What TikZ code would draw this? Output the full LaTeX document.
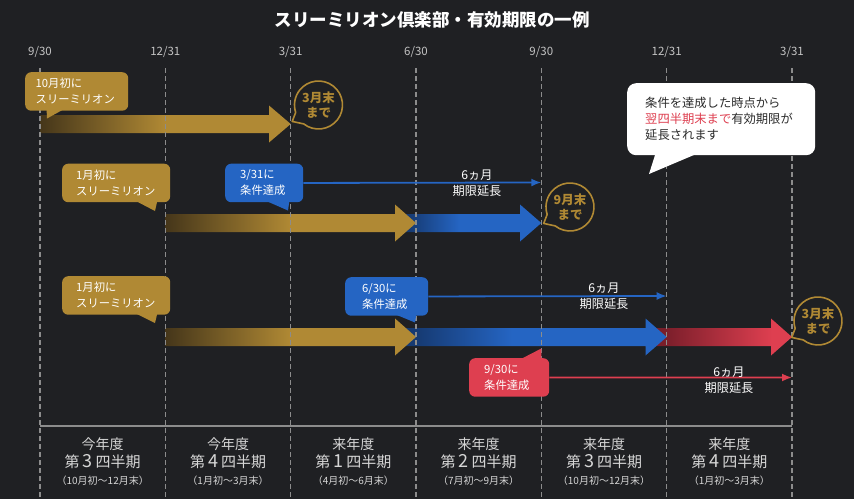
\documentclass[tikz,border=0pt]{standalone}
\usepackage{fontspec}
\setmainfont{Noto Sans CJK JP}
\usetikzlibrary{calc,arrows.meta}
\definecolor{bg}{HTML}{1F2023}
\definecolor{gold}{HTML}{B08934}
\definecolor{golddark}{HTML}{45361A}
\definecolor{blueA}{HTML}{2565C3}
\definecolor{bluedark}{HTML}{163A72}
\definecolor{redA}{HTML}{DE3F50}
\definecolor{reddark}{HTML}{7A1E2A}
\definecolor{gridc}{HTML}{8C8C8C}
\definecolor{datec}{HTML}{C4C4C4}
\definecolor{qtxt}{HTML}{D6D6D6}
\definecolor{darktxt}{HTML}{2B2B2B}
\pgfdeclarehorizontalshading{goldsh}{100bp}{color(0bp)=(golddark); color(25bp)=(golddark); color(50bp)=(gold); color(100bp)=(gold)}
\pgfdeclarehorizontalshading{bluesh}{100bp}{color(0bp)=(bluedark); color(28bp)=(bluedark); color(46bp)=(blueA); color(100bp)=(blueA)}
\pgfdeclarehorizontalshading{redsh}{100bp}{color(0bp)=(reddark); color(30bp)=(reddark); color(68bp)=(redA); color(100bp)=(redA)}
\tikzset{
  datelbl/.style={text=datec, font=\fontsize{11.5}{13}\selectfont, inner sep=0pt},
  gridline/.style={draw=gridc, line width=1.5pt, dash pattern=on 5pt off 3pt},
  cbox/.style={rounded corners=6pt, align=left, text=white, font=\fontsize{11.3}{16}\selectfont, inner ysep=0pt, anchor=north west, minimum height=38.5pt},
  thinarrow/.style={line width=1.8pt, -{Latex[length=10pt,width=8pt]}},
  extlbl/.style={text=white, align=center, font=\fontsize{12.2}{15.5}\selectfont, inner sep=0pt},
  bubble/.style={draw=gold, fill=bg, line width=1.6pt, line join=round},
  bubtxt/.style={text=gold, align=center, font=\bfseries\fontsize{12.5}{14.5}\selectfont, inner sep=0pt},
  qyear/.style={text=qtxt, font=\fontsize{14}{16}\selectfont, anchor=base, inner sep=0pt, text height=10.5pt, text depth=1.5pt},
  qname/.style={text=qtxt, font=\fontsize{15}{16}\selectfont, anchor=base, inner sep=0pt, text height=13pt, text depth=1.5pt},
  qrange/.style={text=qtxt, font=\fontsize{10}{12}\selectfont, anchor=base, inner sep=0pt, text height=8pt, text depth=1.5pt},
}
\begin{document}
\begin{tikzpicture}[x=1pt,y=-1pt]
\fill[bg] (0,0) rectangle (854,499);
\useasboundingbox (0,0) rectangle (854,499);

% title
\node (title) [text=white, font=\bfseries\fontsize{17.5}{20}\selectfont, inner sep=0pt] at (432,20) {スリーミリオン倶楽部・有効期限の一例};

% dates and coordinates of grid lines
\foreach \i/\d in {0/{9/30},1/{12/31},2/{3/31},3/{6/30},4/{9/30},5/{12/31},6/{3/31}}{
  \node (date\i) [datelbl] at ({40+125.33*\i},52) {\d};
  \coordinate (top\i) at ({40+125.33*\i},68);
  \coordinate (bot\i) at ({40+125.33*\i},497);
}

% big arrows
\shade[shading=goldsh] (40,115) -- (269,115) -- (269,105.5) -- (290.7,124) -- (269,142.5) -- (269,133) -- (40,133) -- cycle;

\shade[shading=bluesh] (400,214) -- (520,214) -- (520,204.5) -- (541.3,223) -- (520,241.5) -- (520,232) -- (400,232) -- cycle;
\shade[shading=goldsh] (165.3,214) -- (395,214) -- (395,204.5) -- (416,223) -- (395,241.5) -- (395,232) -- (165.3,232) -- cycle;

\shade[shading=redsh] (650,328) -- (771,328) -- (771,318.5) -- (792,337) -- (771,355.5) -- (771,346) -- (650,346) -- cycle;
\shade[shading=bluesh] (400,328) -- (645.5,328) -- (645.5,318.5) -- (666.7,337) -- (645.5,355.5) -- (645.5,346) -- (400,346) -- cycle;
\shade[shading=goldsh] (165.3,328) -- (395,328) -- (395,318.5) -- (416,337) -- (395,355.5) -- (395,346) -- (165.3,346) -- cycle;

% grid lines
\foreach \i in {0,...,6}{ \draw[gridline] (top\i) -- (bot\i); }
\coordinate (axl) at (40,426);
\coordinate (axr) at (792,426);
\draw[gridc, line width=1.5pt] (axl) -- (axr);

% callouts
\node (c1) [cbox, fill=gold, inner xsep=10.5pt, text width=82pt] at (25,72) {10月初に\\スリーミリオン};
\fill[gold] (46.5,108) -- (47,118.5) -- (66,108) -- cycle;

\node (c2) [cbox, fill=gold, inner xsep=14pt, text width=80pt] at (62,163.5) {1月初に\\スリーミリオン};
\fill[gold] (134,200) -- (155,211) -- (157.5,200) -- cycle;

\node (b331) [cbox, fill=blueA, inner xsep=15pt, text width=48pt] at (225,163.5) {3/31に\\条件達成};
\fill[blueA] (264,200) -- (288,210.5) -- (289.5,200) -- cycle;

\node (c3) [cbox, fill=gold, inner xsep=14pt, text width=80pt] at (62,276) {1月初に\\スリーミリオン};
\fill[gold] (134,312.5) -- (155,323) -- (157.5,312.5) -- cycle;

\node (b630) [cbox, fill=blueA, inner xsep=17pt, text width=49pt] at (345,277) {6/30に\\条件達成};
\fill[blueA] (392,313) -- (415,322.5) -- (416.5,313) -- cycle;

\node (r930) [cbox, fill=redA, inner xsep=15pt, text width=50pt] at (469,358) {9/30に\\条件達成};
\fill[redA] (519,360) -- (541.3,348.5) -- (541.3,360) -- cycle;

% white callout
\node (note) [rounded corners=9pt, fill=white, align=left, text=darktxt, font=\fontsize{12.3}{16}\selectfont, inner xsep=18pt, inner ysep=0pt, text width=152pt, minimum height=72pt, anchor=north west] at (627,83) {条件を達成した時点から\\\textcolor{redA}{翌四半期末まで}有効期限が\\延長されます};
\fill[white] (656,152) -- (649,174) -- (701,152) -- cycle;

% thin extension arrows
\coordinate (e1) at (541.3,182.5);
\coordinate (e2) at (666.7,296);
\coordinate (e3) at (792,377.5);
\draw[thinarrow, blueA] (b331.east) -- (e1);
\draw[thinarrow, blueA] (b630.east) -- (e2);
\draw[thinarrow, redA] (r930.east) -- (e3);
\node (x1) [extlbl] at (477,183) {6ヵ月\\期限延長};
\node (x2) [extlbl] at (604,296) {6ヵ月\\期限延長};
\node (x3) [extlbl] at (729,380) {6ヵ月\\期限延長};

% end bubbles
\coordinate (k1) at (318.5,105);
\coordinate (k2) at (570,207);
\coordinate (k3) at (818,321);
\foreach \k in {k1,k2,k3}{
  \draw[bubble] ($(\k)+(162:24)$) -- ($(\k)+(148:31)$) -- ($(\k)+(128:24)$) arc[start angle=128, end angle=-198, radius=24] -- cycle;
}
\node (k1t) [bubtxt] at (k1) {3月末\\まで};
\node (k2t) [bubtxt] at (k2) {9月末\\まで};
\node (k3t) [bubtxt] at (k3) {3月末\\まで};

% quarter labels
\foreach \i/\yr/\n/\r in {0/今年度/3/10月初〜12月末, 1/今年度/4/1月初〜3月末, 2/来年度/1/4月初〜6月末, 3/来年度/2/7月初〜9月末, 4/来年度/3/10月初〜12月末, 5/来年度/4/1月初〜3月末}{
  \node (fy\i) [qyear] at ({102.7+125.33*\i},449.5) {\yr};
  \node (qn\i) [qname] at ({102.7+125.33*\i},467) {第{\fontsize{18}{18}\selectfont\,\n\,}四半期};
  \node (qr\i) [qrange] at ({102.7+125.33*\i},484) {（\r）};
}
\end{tikzpicture}
\end{document}
